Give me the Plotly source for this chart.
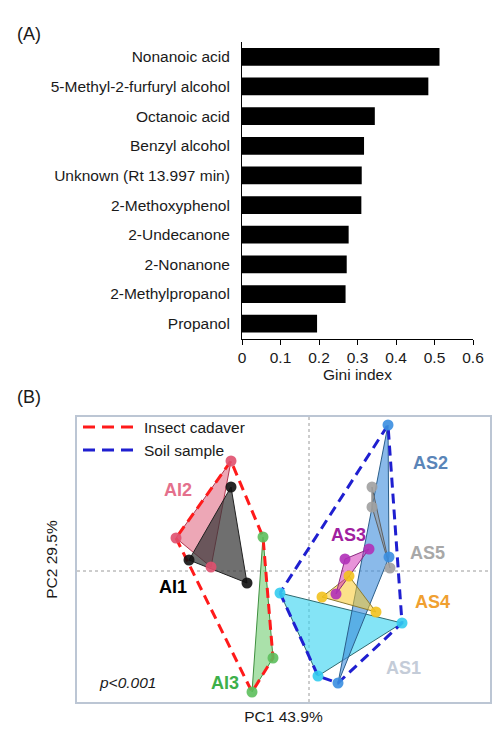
import plotly.graph_objects as go

# ---------------- Panel A: Gini index of volatile compounds ----------------
compounds = [
    "Nonanoic acid", "5-Methyl-2-furfuryl alcohol", "Octanoic acid",
    "Benzyl alcohol", "Unknown (Rt 13.997 min)", "2-Methoxyphenol",
    "2-Undecanone", "2-Nonanone", "2-Methylpropanol", "Propanol",
]
gini = [0.513, 0.484, 0.345, 0.317, 0.311, 0.310, 0.277, 0.272, 0.269, 0.195]
gini_ticks = [0, 0.1, 0.2, 0.3, 0.4, 0.5, 0.6]
gini_ticktext = ["0", "0.1", "0.2", "0.3", "0.4", "0.5", "0.6"]

# ---------------- Panel B: PCA scores per sample group ----------------
groups = ["AI2", "AI1", "AI3", "AS1", "AS2", "AS5", "AS4", "AS3"]
pc1 = {
    "AI1": [-1.56, -2.40, -1.24],
    "AI2": [-1.56, -2.66, -1.96],
    "AI3": [-0.92, -0.72, -1.14],
    "AS1": [-0.58, 1.86, 0.18],
    "AS2": [1.58, 1.60, 0.58],
    "AS3": [1.20, 0.72, 0.54],
    "AS4": [0.26, 1.34, 0.80],
    "AS5": [1.26, 1.26, 1.62],
}
pc2 = {
    "AI1": [1.68, 0.22, -0.24],
    "AI2": [2.20, 0.66, 0.08],
    "AI3": [0.68, -1.74, -2.42],
    "AS1": [-0.44, -1.04, -2.10],
    "AS2": [2.92, 0.28, -2.24],
    "AS3": [0.44, 0.24, -0.46],
    "AS4": [-0.52, -0.82, -0.10],
    "AS5": [1.68, 1.28, 0.06],
}
insect_groups = ["AI1", "AI2", "AI3"]
soil_groups = ["AS1", "AS2", "AS3", "AS4", "AS5"]
pc1_label = "PC1 43.9%"
pc2_label = "PC2 29.5%"

marker_color = {
    "AI1": "#111111", "AI2": "#e0506e", "AI3": "#5cbf5c",
    "AS1": "#33ccf0", "AS2": "#3a8ee0", "AS3": "#b030b8",
    "AS4": "#f2c21e", "AS5": "#a0a0a0",
}
fill_color = {
    "AI1": "rgba(55,55,55,0.72)", "AI2": "rgba(220,80,110,0.5)",
    "AI3": "rgba(100,200,100,0.55)", "AS1": "rgba(50,210,240,0.6)",
    "AS2": "rgba(60,140,220,0.6)", "AS3": "rgba(210,40,180,0.5)",
    "AS4": "rgba(250,200,40,0.55)", "AS5": "rgba(150,150,150,0.5)",
}
edge_color = {
    "AI1": "#202020", "AI2": "#b03850", "AI3": "#3f8f3f",
    "AS1": "#2f6a70", "AS2": "#2c5f8a", "AS3": "#8a2a80",
    "AS4": "#8a7a30", "AS5": "#606060",
}
label_color = {
    "AI1": "#000000", "AI2": "#e4708c", "AI3": "#3db04a",
    "AS1": "#c4ccd8", "AS2": "#5a85b8", "AS3": "#a0209f",
    "AS4": "#f0a030", "AS5": "#a8a8a8",
}
label_pos = {
    "AI2": (-2.62, 1.62), "AI1": (-2.72, -0.32), "AI3": (-1.68, -2.24),
    "AS2": (2.42, 2.16), "AS3": (0.78, 0.72), "AS5": (2.36, 0.36),
    "AS4": (2.46, -0.62), "AS1": (1.88, -1.94),
}

FONT = "Liberation Sans, Arial, sans-serif"
TEXT = "#1a1a1a"
FS = 15.5


def convex_hull(points):
    pts = sorted(set(points))
    if len(pts) < 3:
        return pts

    def cross(o, a, b):
        return (a[0] - o[0]) * (b[1] - o[1]) - (a[1] - o[1]) * (b[0] - o[0])

    lower, upper = [], []
    for p in pts:
        while len(lower) >= 2 and cross(lower[-2], lower[-1], p) <= 0:
            lower.pop()
        lower.append(p)
    for p in reversed(pts):
        while len(upper) >= 2 and cross(upper[-2], upper[-1], p) <= 0:
            upper.pop()
        upper.append(p)
    return lower[:-1] + upper[:-1]


fig = go.Figure()

# Panel A bars
fig.add_trace(go.Bar(
    x=gini, y=compounds, orientation="h",
    marker=dict(color="black", line=dict(width=0)),
    width=0.6, xaxis="x", yaxis="y", showlegend=False,
))

# Panel B: filled triangles for each group
for g in groups:
    xs = pc1[g] + [pc1[g][0]]
    ys = pc2[g] + [pc2[g][0]]
    fig.add_trace(go.Scatter(
        x=xs, y=ys, mode="lines", fill="toself",
        fillcolor=fill_color[g], line=dict(color=edge_color[g], width=1),
        xaxis="x2", yaxis="y2", showlegend=False, hoverinfo="skip",
    ))

# Panel B: dashed convex hulls for insect cadaver / soil sample
for members, color in ((insect_groups, "#ff1a1a"), (soil_groups, "#1f1fd0")):
    pts = [(x, y) for g in members for x, y in zip(pc1[g], pc2[g])]
    hull = convex_hull(pts)
    hull.append(hull[0])
    fig.add_trace(go.Scatter(
        x=[p[0] for p in hull], y=[p[1] for p in hull], mode="lines",
        line=dict(color=color, width=3, dash="10px,6px"),
        xaxis="x2", yaxis="y2", showlegend=False, hoverinfo="skip",
    ))

# Panel B: sample points
for g in groups:
    fig.add_trace(go.Scatter(
        x=pc1[g], y=pc2[g], mode="markers",
        marker=dict(color=marker_color[g], size=11, opacity=0.9),
        xaxis="x2", yaxis="y2", showlegend=False, name=g,
    ))

annotations = []
for g, (lx, ly) in label_pos.items():
    annotations.append(dict(
        x=lx, y=ly, xref="x2", yref="y2", text=f"<b>{g}</b>",
        showarrow=False, font=dict(family=FONT, size=18, color=label_color[g]),
    ))
annotations.append(dict(
    x=-3.64, y=-2.22, xref="x2", yref="y2", text="<i>p<0.001</i>",
    showarrow=False, font=dict(family=FONT, size=FS, color=TEXT),
))
annotations += [
    dict(x=15 / 501, y=1 - 22 / 731, xref="paper", yref="paper", text="(A)",
         showarrow=False, xanchor="left",
         font=dict(family=FONT, size=18, color=TEXT)),
    dict(x=15 / 501, y=1 - 397 / 731, xref="paper", yref="paper", text="(B)",
         showarrow=False, xanchor="left",
         font=dict(family=FONT, size=18, color=TEXT)),
]

# Legend drawn inside the PCA frame
legend_items = [("Insect cadaver", "#ff1a1a", 427), ("Soil sample", "#1f1fd0", 450)]
shapes = []
for text, color, py in legend_items:
    yp = 1 - py / 731
    shapes.append(dict(
        type="line", xref="paper", yref="paper",
        x0=83 / 501, x1=137 / 501, y0=yp, y1=yp,
        line=dict(color=color, width=3, dash="12px,7px"),
    ))
    annotations.append(dict(
        x=142 / 501, y=yp, xref="paper", yref="paper", text=text,
        showarrow=False, xanchor="left",
        font=dict(family=FONT, size=FS, color=TEXT),
    ))

# Dotted zero lines in the PCA plot
shapes += [
    dict(type="line", xref="x2", yref="y2 domain", x0=0, x1=0, y0=0, y1=1,
         line=dict(color="#9a9a9a", width=1, dash="dot"), layer="below"),
    dict(type="line", xref="x2 domain", yref="y2", x0=0, x1=1, y0=0, y1=0,
         line=dict(color="#9a9a9a", width=1, dash="dot"), layer="below"),
]

fig.update_layout(
    template="none",
    width=501, height=731,
    margin=dict(l=0, r=0, t=0, b=0, pad=0),
    paper_bgcolor="white", plot_bgcolor="white",
    font=dict(family=FONT, size=FS, color=TEXT),
    bargap=0.4,
    xaxis=dict(
        domain=[242 / 501, 473 / 501], range=[0, 0.6], automargin=False,
        tickvals=gini_ticks, ticktext=gini_ticktext,
        showline=True, linecolor="black", linewidth=1,
        ticks="outside", ticklen=5, tickcolor="black",
        showgrid=False, zeroline=False, anchor="y",
        title=dict(text="Gini index", standoff=1, font=dict(size=FS)),
        tickfont=dict(size=FS),
    ),
    yaxis=dict(
        domain=[1 - 338.5 / 731, 1 - 42 / 731], automargin=False,
        categoryorder="array", categoryarray=compounds,
        autorange="reversed",
        showline=True, linecolor="black", linewidth=1,
        ticks="outside", ticklen=8, tickcolor="rgba(0,0,0,0)",
        showgrid=False, zeroline=False, anchor="x",
        tickfont=dict(size=FS),
    ),
    xaxis2=dict(
        domain=[77 / 501, 490 / 501], range=[-4.64, 3.62], automargin=False,
        showticklabels=False, ticks="", showgrid=False, zeroline=False,
        showline=True, mirror=True, linecolor="#bcc6d4", linewidth=1.5,
        anchor="y2",
        title=dict(text=pc1_label, standoff=8, font=dict(size=FS)),
    ),
    yaxis2=dict(
        domain=[1 - 702 / 731, 1 - 417 / 731], range=[-2.62, 3.08],
        automargin=False,
        showticklabels=False, ticks="", showgrid=False, zeroline=False,
        showline=True, mirror=True, linecolor="#bcc6d4", linewidth=1.5,
        anchor="x2",
        title=dict(text=pc2_label, standoff=14, font=dict(size=FS)),
    ),
    shapes=shapes,
    annotations=annotations,
)

fig.write_html("out.html")
